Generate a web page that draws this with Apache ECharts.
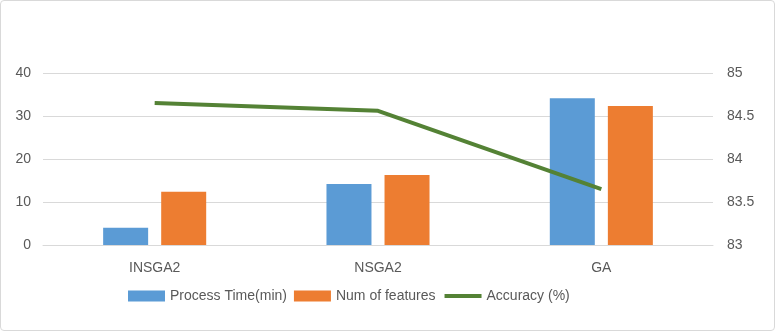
<!DOCTYPE html>
<html>
<head>
<meta charset="utf-8">
<script src="https://cdn.jsdelivr.net/npm/echarts@6/dist/echarts.min.js"></script>
<style>
  html, body { margin: 0; padding: 0; background: #fff; }
  #chart { width: 773px; height: 329px; border: 1px solid #d9d9d9; border-radius: 4px; }
</style>
</head>
<body>
<div id="chart"></div>
<script>
// 数据
var categories = ['INSGA2', 'NSGA2', 'GA'];
var processTime = [4.0, 14.2, 34.1];
var numFeatures = [12.4, 16.3, 32.3];
var accuracy = [84.65, 84.56, 83.65];

var textColor = '#595959';
var font = 'Liberation Sans, Arial, sans-serif';

var chart = echarts.init(document.getElementById('chart'));

var option = {
    animation: false,
    textStyle: { fontFamily: font },
    grid: { left: 42, right: 61, top: 72, bottom: 85 },
    legend: {
        bottom: 22,
        left: 122,
        itemWidth: 37,
        itemHeight: 11,
        itemGap: 7,
        textStyle: { color: textColor, fontSize: 14, fontFamily: font },
        data: [
            { name: 'Process Time(min)', icon: 'rect' },
            { name: 'Num of features', icon: 'rect' },
            // 图例只画线，不画圆点
            { name: 'Accuracy (%)', itemStyle: { opacity: 0 }, lineStyle: { width: 4 } }
        ]
    },
    xAxis: {
        type: 'category',
        data: categories,
        axisLine: { lineStyle: { color: '#d9d9d9' } },
        axisTick: { show: false },
        axisLabel: { color: textColor, fontSize: 14, margin: 16 }
    },
    yAxis: [
        {
            type: 'value',
            min: 0, max: 40, interval: 10,
            axisLine: { show: false },
            axisTick: { show: false },
            axisLabel: { color: textColor, fontSize: 14, margin: 12 },
            splitLine: { lineStyle: { color: '#d9d9d9' } }
        },
        {
            type: 'value',
            min: 83, max: 85, interval: 0.5,
            axisLine: { show: false },
            axisTick: { show: false },
            axisLabel: { color: textColor, fontSize: 14, margin: 14 },
            splitLine: { show: false }
        }
    ],
    series: [
        {
            name: 'Process Time(min)',
            type: 'bar',
            data: processTime,
            barWidth: 45,
            barGap: '29%',
            itemStyle: { color: '#5b9bd5' }
        },
        {
            name: 'Num of features',
            type: 'bar',
            data: numFeatures,
            barWidth: 45,
            itemStyle: { color: '#ed7d31' }
        },
        {
            name: 'Accuracy (%)',
            type: 'line',
            yAxisIndex: 1,
            data: accuracy,
            symbol: 'none',
            lineStyle: { color: '#548235', width: 4 },
            itemStyle: { color: '#548235' }
        }
    ]
};

chart.setOption(option);
</script>
</body>
</html>
